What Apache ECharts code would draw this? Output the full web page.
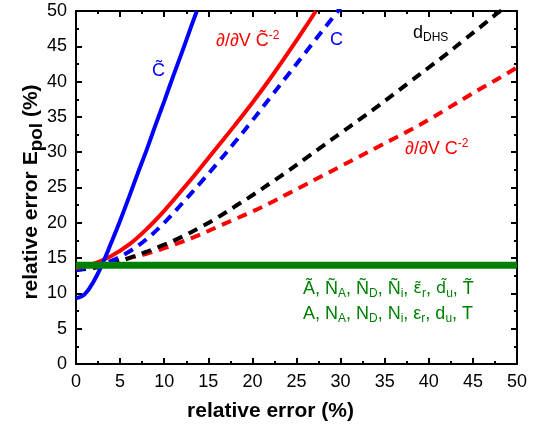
<!DOCTYPE html>
<html>
<head>
<meta charset="utf-8" />
<title>relative error</title>
<script src="https://cdn.jsdelivr.net/npm/echarts@6/dist/echarts.min.js"></script>
<style>
  html, body { margin: 0; padding: 0; background: #fff; }
  #main { width: 541px; height: 431px; }
</style>
</head>
<body>
<div id="main"></div>
<script>
// data: x = relative error (%), y = relative error Epol (%)
const xTicks = [0, 5, 10, 15, 20, 25, 30, 35, 40, 45, 50];
const yTicks = [0, 5, 10, 15, 20, 25, 30, 35, 40, 45, 50];

// C~ (blue solid)
const cTildeX = [0, 1, 2, 3, 4, 5, 6, 7, 8, 9, 10, 11, 12, 13, 13.7];
const cTildeY = [9.3, 9.9, 11.7, 14.2, 17.2, 20.3, 23.6, 27.0, 30.3, 33.8, 37.2, 40.7, 44.1, 47.6, 50];

// d/dV C~^-2 (red solid)
const dCTildeX = [0, 2, 4, 6, 8, 10, 12, 14, 16, 18, 20, 22, 24, 26, 27.2];
const dCTildeY = [13.6, 14.2, 15.3, 16.9, 19.1, 21.7, 24.6, 27.6, 30.7, 33.8, 37.0, 40.4, 44.0, 47.7, 50];

// C (blue dashed)
const cX = [0, 2, 4, 6, 8, 10, 12, 14, 16, 18, 20, 22, 24, 26, 28, 30];
const cY = [13.3, 13.8, 14.6, 15.9, 17.7, 20.0, 22.7, 25.5, 28.4, 31.4, 34.5, 37.7, 40.9, 44.1, 47.3, 50.5];

// d_DHS (black dashed)
const dhsX = [0, 2, 4, 6, 8, 10, 12, 14, 16, 18, 20, 22, 24, 26, 28, 30, 32, 34, 36, 38, 40, 42, 44, 46, 48, 48.2];
const dhsY = [13.3, 13.6, 14.2, 15.0, 15.9, 16.9, 18.0, 19.3, 20.7, 22.3, 23.9, 25.6, 27.3, 29.1, 30.9, 32.7, 34.5, 36.3, 38.2, 40.1, 42.0, 43.9, 45.9, 47.9, 49.9, 50];

// d/dV C^-2 (red dashed)
const dCX = [0, 2, 4, 6, 8, 10, 12, 14, 16, 18, 20, 22, 24, 26, 28, 30, 32, 34, 36, 38, 40, 42, 44, 46, 48, 50];
const dCY = [13.5, 13.9, 14.4, 15.0, 15.6, 16.4, 17.3, 18.3, 19.4, 20.5, 21.6, 22.8, 24.1, 25.4, 26.7, 28.0, 29.3, 30.6, 31.9, 33.2, 34.6, 36.1, 37.6, 39.1, 40.5, 42.0];

// A, N_A, N_D, N_i, eps_r, d_u, T (green, flat)
const flatX = [0, 50];
const flatY = [14, 14];

const FONT = 'Liberation Sans';
const T = '\u0303'; // combining tilde

function pairs(xs, ys) {
    return xs.map((x, i) => [x, ys[i]]);
}

function lineSeries(xs, ys, color, dashed, width) {
    return {
        type: 'line',
        data: pairs(xs, ys),
        smooth: 0.4,
        symbol: 'none',
        xAxisIndex: 0,
        yAxisIndex: 0,
        lineStyle: {
            color: color,
            width: width,
            type: dashed ? [10, 7] : 'solid'
        },
        z: 3
    };
}

// styles for rich text (subscripts / superscripts)
const rich = function (color) {
    return {
        m: {fontFamily: FONT, fontSize: 18, color: color, lineHeight: 22, verticalAlign: 'middle'},
        t: {fontFamily: 'DejaVu Sans', fontSize: 16, color: color, lineHeight: 22, verticalAlign: 'middle'},
        sub: {fontFamily: FONT, fontSize: 12, color: color, lineHeight: 12, verticalAlign: 'bottom'},
        sup: {fontFamily: FONT, fontSize: 12, color: color, lineHeight: 12, verticalAlign: 'top'}
    };
};

function label(x, y, text, color) {
    return {
        type: 'text',
        left: x,
        top: y,
        z: 10,
        style: {
            text: text,
            rich: rich(color),
            fill: color,
            font: '18px ' + FONT
        }
    };
}

const axisCommon = {
    type: 'value',
    min: 0,
    max: 50,
    interval: 5,
    splitLine: {show: false},
    axisLine: {show: true, onZero: false, lineStyle: {color: '#000', width: 2}},
    axisTick: {show: true, inside: true, length: 6, lineStyle: {color: '#000', width: 2}},
    minorTick: {show: true, splitNumber: 2, length: 3, lineStyle: {color: '#000', width: 2}}
};

let myChart = echarts.init(document.getElementById('main'), null, {renderer: 'canvas'});

let option = {
    backgroundColor: '#fff',
    animation: false,
    grid: {left: 76, right: 24, top: 11, bottom: 67},
    xAxis: [
        Object.assign({}, axisCommon, {
            position: 'bottom',
            axisLabel: {
                color: '#000', fontFamily: FONT, fontSize: 18, margin: 9,
                formatter: v => xTicks.includes(v) ? String(v) : ''
            }
        }),
        Object.assign({}, axisCommon, {position: 'top', axisLabel: {show: false}})
    ],
    yAxis: [
        Object.assign({}, axisCommon, {
            position: 'left',
            axisLabel: {
                color: '#000', fontFamily: FONT, fontSize: 18, margin: 9,
                formatter: v => yTicks.includes(v) ? String(v) : ''
            }
        }),
        Object.assign({}, axisCommon, {position: 'right', axisLabel: {show: false}})
    ],
    series: [
        lineSeries(dCX, dCY, '#ff0000', true, 4),
        lineSeries(dhsX, dhsY, '#000000', true, 4),
        lineSeries(cX, cY, '#0000ff', true, 4),
        lineSeries(dCTildeX, dCTildeY, '#ff0000', false, 4),
        lineSeries(cTildeX, cTildeY, '#0000ff', false, 4),
        Object.assign(lineSeries(flatX, flatY, '#008000', false, 7), {smooth: false, z: 4})
    ],
    graphic: [
        // axis titles
        {
            type: 'text', left: 'center', top: 401,
            style: {text: 'relative error (%)', font: 'bold 21px ' + FONT, fill: '#000'}
        },
        {
            type: 'text', x: 31, y: 192, rotation: Math.PI / 2,
            style: {
                text: '{m|relative error E}{s|pol}{m| (%)}',
                align: 'center', verticalAlign: 'middle',
                rich: {
                    m: {font: 'bold 21px ' + FONT, fill: '#000', lineHeight: 30, verticalAlign: 'middle'},
                    s: {font: 'bold 19px ' + FONT, fill: '#000', lineHeight: 20, verticalAlign: 'bottom'}
                }
            }
        },
        // curve labels
        label(152, 62, '{m|C' + T + '}', '#0000ff'),
        label(216, 30, '{m|\u2202/\u2202V C' + T + '}{sup|-2}', '#ff0000'),
        label(330, 31, '{m|C}', '#0000ff'),
        label(413, 24, '{m|d}{sub|DHS}', '#000000'),
        label(405, 138, '{m|\u2202/\u2202V C}{sup|-2}', '#ff0000'),
        label(303, 280, '{m|A' + T + ', N' + T + '}{sub|A}{m|, N' + T + '}{sub|D}{m|, N' + T + '}{sub|i}{m|, }{t|\u03b5' + T + '}{sub|r}{m|, }{t|d' + T + '}{sub|u}{m|, T' + T + '}', '#008000'),
        label(303, 305, '{m|A, N}{sub|A}{m|, N}{sub|D}{m|, N}{sub|i}{m|, \u03b5}{sub|r}{m|, d}{sub|u}{m|, T}', '#008000')
    ]
};

myChart.setOption(option);
</script>
</body>
</html>
